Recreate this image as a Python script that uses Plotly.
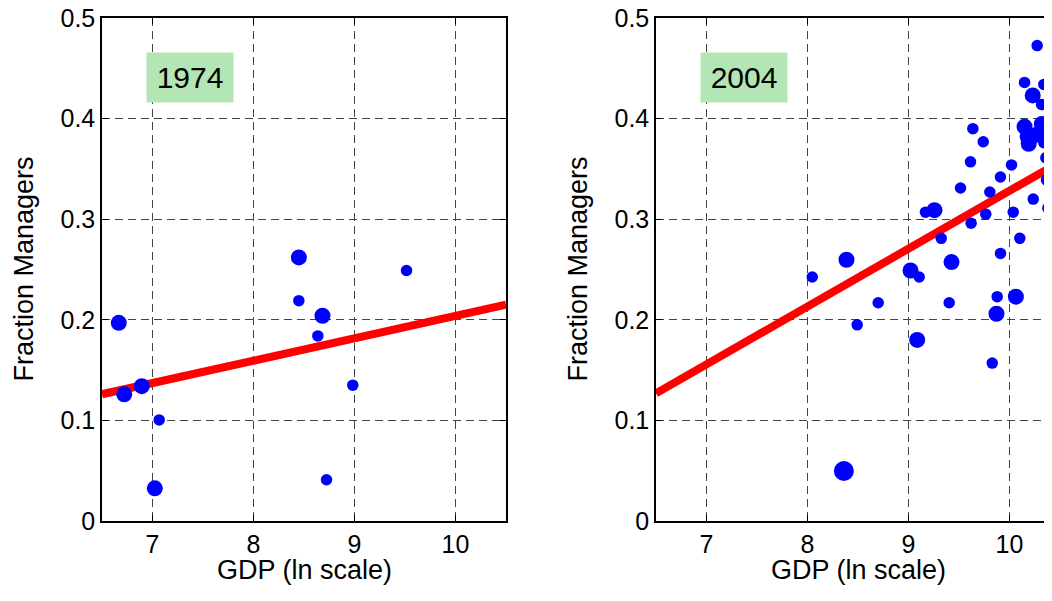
import plotly.graph_objects as go

# ---------------- data ----------------
# 1974
gdp_1974 = [6.666, 6.72, 6.894, 7.066, 7.023, 8.449, 8.449, 8.683, 8.637, 8.983, 8.723, 9.515]
mgr_1974 = [0.197, 0.126, 0.134, 0.1005, 0.0325, 0.262, 0.219, 0.204, 0.184, 0.135, 0.041, 0.249]
wt_1974 = [2, 2, 2, 1, 2, 2, 1, 2, 1, 1, 1, 1]

# 2004
gdp_2004 = [8.047, 8.386, 8.492, 8.70, 9.02, 9.106, 9.086, 9.324, 9.426, 9.403,
            9.911, 9.878, 9.871, 9.829, 10.063, 10.102, 8.36,
            10.274, 10.149, 10.34, 10.23, 10.317, 10.149, 10.32, 10.38, 10.18, 10.27, 10.19,
            10.34, 10.36, 10.366, 10.235, 10.38, 10.037, 10.02, 9.91, 9.805, 9.765,
            9.614, 9.637, 9.74, 9.515, 9.62, 9.168, 9.257]
mgr_2004 = [0.2425, 0.2597, 0.195, 0.217, 0.249, 0.2425, 0.18, 0.281, 0.2574, 0.217,
            0.266, 0.223, 0.206, 0.157, 0.223, 0.281, 0.0497,
            0.4726, 0.436, 0.434, 0.423, 0.414, 0.392, 0.3947, 0.394, 0.382, 0.384, 0.375,
            0.376, 0.361, 0.339, 0.32, 0.311, 0.307, 0.354, 0.342, 0.327, 0.305,
            0.357, 0.39, 0.377, 0.331, 0.296, 0.307, 0.309]
wt_2004 = [1, 2, 1, 1, 2, 1, 2, 1, 2, 1,
           1, 1, 2, 1, 2, 1, 3,
           1, 1, 1, 2, 1, 2, 2, 2, 2, 2, 2,
           1, 1, 1, 1, 1, 1, 1, 1, 1, 1,
           1, 1, 1, 1, 1, 1, 2]

# fitted lines: (intercept, slope)
fit_1974 = (-0.0186, 0.02225)
fit_2004 = (-0.2468, 0.0575)

years = ["1974", "2004"]
x_ticks = [7, 8, 9, 10]
y_ticks = [0, 0.1, 0.2, 0.3, 0.4, 0.5]
y_tick_labels = ["0", "0.1", "0.2", "0.3", "0.4", "0.5"]

# ---------------- figure ----------------
# page body has an 8px margin, so the figure is 8px smaller and shifted
W, H = 1044, 593
FONT = "Liberation Sans, Arial, Helvetica, sans-serif"
size_map = {1: 11.5, 2: 16, 3: 20}

fig = go.Figure()

x1_dom = [94 / W, 498 / W]
x2_dom = [648 / W, 1.0]
x_range1 = [6.5, 10.5]
x_range2 = [6.5, 6.5 + 396 / 101]

panels = [
    (gdp_1974, mgr_1974, wt_1974, fit_1974, "x", "y"),
    (gdp_2004, mgr_2004, wt_2004, fit_2004, "x2", "y2"),
]

for gx, my, wt, fit, xa, ya in panels:
    b0, b1 = fit
    lx = [6.5, 10.5]
    ly = [b0 + b1 * v for v in lx]
    fig.add_trace(go.Scatter(x=lx, y=ly, mode="lines", xaxis=xa, yaxis=ya,
                             line=dict(color="#ff0000", width=8), showlegend=False,
                             hoverinfo="skip"))
    fig.add_trace(go.Scatter(x=gx, y=my, mode="markers", xaxis=xa, yaxis=ya,
                             marker=dict(color="#0000ff", opacity=1,
                                         size=[size_map[w] for w in wt],
                                         line=dict(width=0)),
                             showlegend=False))

axis_common = dict(
    showgrid=True, gridcolor="#444444", gridwidth=1, griddash="8px,5px",
    zeroline=False, showline=True, linecolor="black", linewidth=1.5,
    ticks="inside", ticklen=6, tickcolor="black", tickwidth=1,
    tickfont=dict(family=FONT, size=25, color="black"),
    ticklabeloverflow="allow",
    automargin=False,
)

fig.update_layout(
    width=W, height=H,
    margin=dict(l=0, r=0, t=10, b=80),
    paper_bgcolor="white", plot_bgcolor="white",
    xaxis=dict(domain=x1_dom, range=x_range1, tickvals=x_ticks, mirror="ticks",
               anchor="y", **axis_common),
    yaxis=dict(domain=[0, 1], range=[0, 0.5], tickvals=y_ticks, ticktext=y_tick_labels,
               mirror="ticks", anchor="x", **axis_common),
    xaxis2=dict(domain=x2_dom, range=x_range2, tickvals=x_ticks, mirror="ticks",
                anchor="y2", **axis_common),
    yaxis2=dict(domain=[0, 1], range=[0, 0.5], tickvals=y_ticks, ticktext=y_tick_labels,
                mirror=False, anchor="x2", **axis_common),
)

annotations = []
# year labels
for yr, xa, ya in [(years[0], "x", "y"), (years[1], "x2", "y2")]:
    annotations.append(dict(text=yr, x=7.37, y=0.441, xref=xa, yref=ya,
                            showarrow=False, bgcolor="#b3e6b4", borderpad=0,
                            width=86, height=49,
                            font=dict(family=FONT, size=30, color="black")))
# axis titles
for xa in ["x", "x2"]:
    annotations.append(dict(text="GDP (ln scale)", x=8.5, xref=xa, y=-0.064, yref="paper",
                            yanchor="top", showarrow=False,
                            font=dict(family=FONT, size=27, color="black")))
for px in [15, 569]:
    annotations.append(dict(text="Fraction Managers", x=px / W, xref="paper", y=0.5, yref="paper",
                            textangle=-90, showarrow=False, xanchor="center", yanchor="middle",
                            font=dict(family=FONT, size=27, color="black")))
fig.update_layout(annotations=annotations)

fig.write_html("out.html")
